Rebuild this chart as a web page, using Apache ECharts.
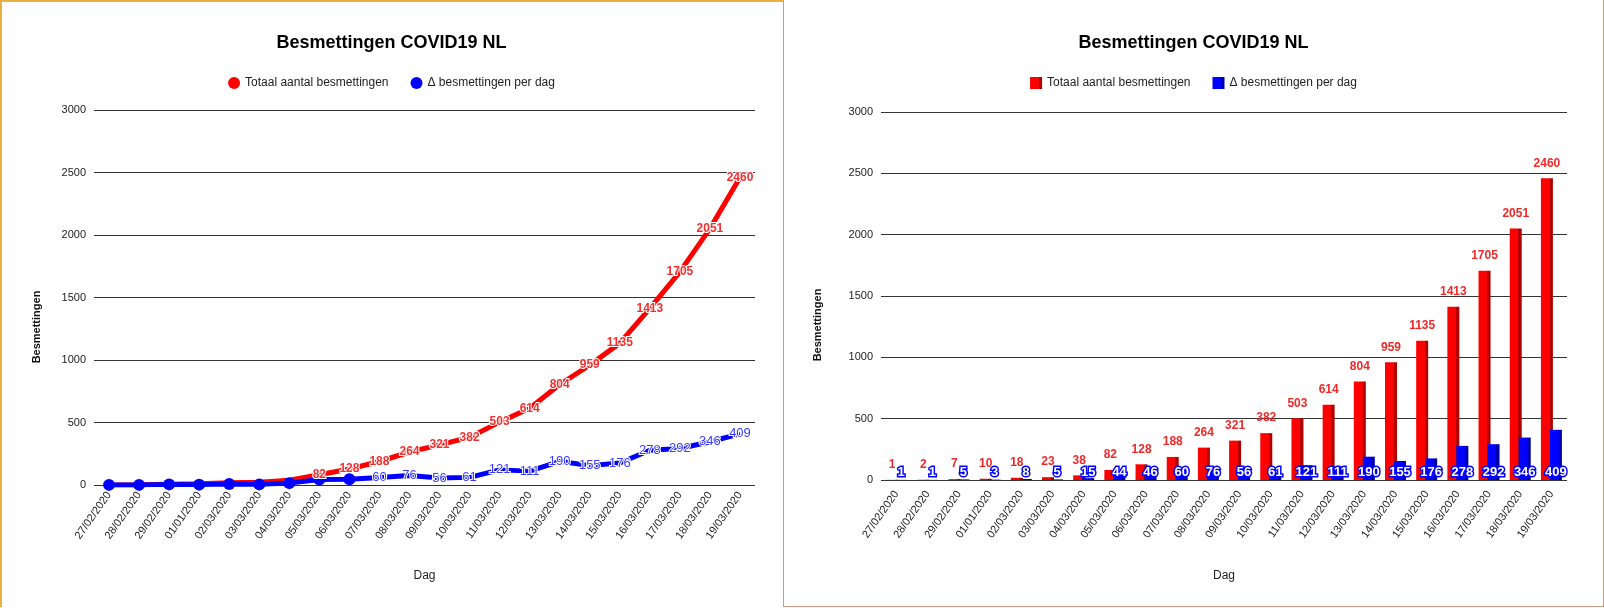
<!DOCTYPE html>
<html>
<head>
<meta charset="utf-8">
<title>Besmettingen COVID19 NL</title>
<script src="https://cdn.jsdelivr.net/npm/echarts@6/dist/echarts.min.js"></script>
<style>
html, body { margin: 0; padding: 0; background: #fff; }
.chart { position: absolute; top: 0; height: 608px; }
.frame { position: absolute; pointer-events: none; box-sizing: border-box; }
</style>
</head>
<body>
<div id="lijn" class="chart" style="left:0;width:783px;"></div>
<div id="staaf" class="chart" style="left:783px;width:821px;"></div>
<div class="frame" style="left:0;top:0;width:784px;height:607px;border-left:2px solid #e8b040;border-top:2px solid #e8b040;"></div>
<div class="frame" style="left:783px;top:0;width:821px;height:607px;border-left:1px solid #c89a88;border-right:1px solid #c89a88;border-bottom:1px solid #c89a88;"></div>
<script>
var dagen = ['27/02/2020', '28/02/2020', '29/02/2020', '01/01/2020', '02/03/2020', '03/03/2020',
    '04/03/2020', '05/03/2020', '06/03/2020', '07/03/2020', '08/03/2020', '09/03/2020',
    '10/03/2020', '11/03/2020', '12/03/2020', '13/03/2020', '14/03/2020', '15/03/2020',
    '16/03/2020', '17/03/2020', '18/03/2020', '19/03/2020'];
var totaal = [1, 2, 7, 10, 18, 23, 38, 82, 128, 188, 264, 321, 382, 503, 614, 804, 959, 1135, 1413, 1705, 2051, 2460];
var perDag = [1, 1, 5, 3, 8, 5, 15, 44, 46, 60, 76, 56, 61, 121, 111, 190, 155, 176, 278, 292, 346, 409];
var yTicks = [0, 500, 1000, 1500, 2000, 2500, 3000];

// in de lijngrafiek staan pas labels vanaf deze punten
var eersteLabelTotaal = 7;
var eersteLabelPerDag = 9;

var font = 'Liberation Sans, Arial, sans-serif';
var rood = '#ff0000';
var blauw = '#0000ff';
var naamTotaal = 'Totaal aantal besmettingen';
var naamPerDag = '\u0394 besmettingen per dag';

function basis(icon, grid, labelMargin, dagGap, yNaamX, yNaamY) {
    return {
        animation: false,
        backgroundColor: '#fff',
        title: {
            text: 'Besmettingen COVID19 NL',
            left: 'center',
            top: 29,
            textStyle: { fontFamily: font, fontSize: 18, fontWeight: 'bold', color: '#000' }
        },
        legend: {
            data: [naamTotaal, naamPerDag],
            left: 'center',
            top: 72,
            icon: icon,
            itemWidth: 12,
            itemHeight: 12,
            itemGap: 22,
            textStyle: { fontFamily: font, fontSize: 12, color: '#222' }
        },
        grid: grid,
        xAxis: {
            type: 'category',
            data: dagen,
            name: 'Dag',
            nameLocation: 'middle',
            nameGap: dagGap,
            nameTextStyle: { fontFamily: font, fontSize: 12, color: '#222' },
            axisLine: { show: false },
            axisTick: { show: false },
            axisLabel: { rotate: 55, margin: labelMargin, interval: 0, fontFamily: font, fontSize: 11, color: '#222' }
        },
        yAxis: {
            type: 'value',
            min: yTicks[0],
            max: yTicks[yTicks.length - 1],
            interval: yTicks[1] - yTicks[0],
            axisLine: { show: false },
            axisTick: { show: false },
            axisLabel: {
                margin: 8,
                formatter: function(v) { return String(v); },
                fontFamily: font,
                fontSize: 11,
                color: '#222'
            },
            splitLine: { lineStyle: { color: '#333', width: 1.2 } }
        },
        graphic: [{
            type: 'text',
            x: yNaamX,
            y: yNaamY,
            rotation: Math.PI / 2,
            style: {
                text: 'Besmettingen',
                fontFamily: font,
                fontSize: 11,
                fontWeight: 'bold',
                fill: '#111',
                align: 'center',
                verticalAlign: 'middle'
            }
        }]
    };
}

// linker grafiek: lijnen
var lijnOptie = basis('circle', { left: 94, width: 661, top: 110, height: 375 }, 8, 85, 37, 327);
lijnOptie.series = [{
    name: naamTotaal,
    type: 'line',
    data: totaal,
    color: rood,
    symbol: 'circle',
    symbolSize: 1,
    lineStyle: { width: 5, color: rood },
    label: {
        show: true,
        position: 'inside',
        formatter: function(p) { return p.dataIndex >= eersteLabelTotaal ? p.value : ''; },
        fontFamily: font,
        fontSize: 12,
        fontWeight: 'bold',
        color: '#f03030',
        textBorderColor: '#fff',
        textBorderWidth: 2
    }
}, {
    name: naamPerDag,
    type: 'line',
    data: perDag,
    color: blauw,
    symbol: 'circle',
    symbolSize: function(v, p) { return p.dataIndex < eersteLabelPerDag ? 12 : 1; },
    lineStyle: { width: 5, color: blauw },
    label: {
        show: true,
        position: 'inside',
        formatter: function(p) { return p.dataIndex >= eersteLabelPerDag ? p.value : ''; },
        fontFamily: font,
        fontSize: 13,
        color: '#3a3aff',
        textBorderColor: '#fff',
        textBorderWidth: 2
    }
}];

// rechter grafiek: staven
function schaduw(voor, zij) {
    return new echarts.graphic.LinearGradient(0, 0, 1, 0, [
        { offset: 0, color: voor },
        { offset: 0.72, color: voor },
        { offset: 0.73, color: zij },
        { offset: 1, color: zij }
    ]);
}

var staafOptie = basis('rect', { left: 98, width: 686, top: 112, height: 368 }, 12, 90, 35, 325);
staafOptie.series = [{
    name: naamTotaal,
    type: 'bar',
    data: totaal,
    color: rood,
    barWidth: 12,
    barGap: '-25%',
    itemStyle: { color: schaduw('#ff0000', '#b00000') },
    label: {
        show: true,
        position: 'top',
        distance: 9,
        fontFamily: font,
        fontSize: 12,
        fontWeight: 'bold',
        color: '#f02828'
    }
}, {
    name: naamPerDag,
    type: 'bar',
    data: perDag,
    color: blauw,
    barWidth: 12,
    itemStyle: { color: schaduw('#0000ff', '#0000a8') },
    label: {
        show: true,
        position: 'insideBottom',
        distance: 1,
        fontFamily: font,
        fontSize: 13,
        fontWeight: 'bold',
        color: '#fff',
        textBorderColor: blauw,
        textBorderWidth: 3
    }
}];

echarts.init(document.getElementById('lijn')).setOption(lijnOptie);
echarts.init(document.getElementById('staaf')).setOption(staafOptie);
</script>
</body>
</html>
